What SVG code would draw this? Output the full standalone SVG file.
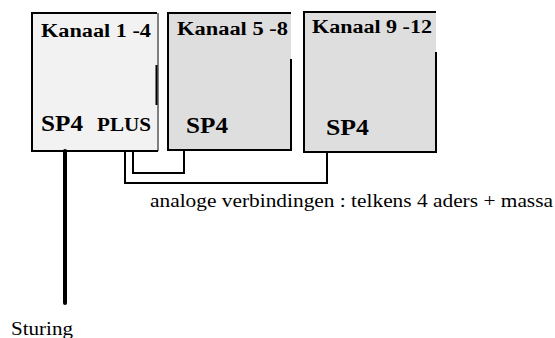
<svg xmlns="http://www.w3.org/2000/svg" width="555" height="338" viewBox="0 0 555 338">
<style>
text{font-family:'Liberation Serif','Times New Roman',serif;fill:#000}
.t{font-weight:bold}
.b{stroke:#000;stroke-width:2;fill:none}
.c{stroke:#000;fill:none;stroke-width:2}
</style>
<rect width="555" height="338" fill="#fff"/>
<g id="node-kanaal-1-4">
<rect x="32" y="13" width="125" height="138" fill="#f2f2f2"/>
<path class="b" d="M157,13 H32 V151 H158"/>
<line x1="158" y1="13" x2="158" y2="151" stroke="#000" stroke-width="1"/>
<line x1="156.5" y1="65" x2="156.5" y2="105" stroke="#000" stroke-width="2"/>
<text class="t" x="41" y="37" font-size="18" textLength="110" lengthAdjust="spacingAndGlyphs">Kanaal  1 -4</text>
<text class="t" x="41" y="131" font-size="24" textLength="42" lengthAdjust="spacingAndGlyphs">SP4</text>
<text class="t" x="97" y="131" font-size="19" textLength="54" lengthAdjust="spacingAndGlyphs">PLUS</text>
</g>
<g id="node-kanaal-5-8">
<rect x="168" y="13" width="123" height="137" fill="#dedede"/>
<path class="b" d="M291,13 H168 V150 H291 V59"/>
<text class="t" x="177" y="35" font-size="18" textLength="111" lengthAdjust="spacingAndGlyphs">Kanaal  5 -8</text>
<text class="t" x="186" y="133" font-size="24" textLength="42" lengthAdjust="spacingAndGlyphs">SP4</text>
</g>
<g id="node-kanaal-9-12">
<rect x="304" y="12" width="132" height="140" fill="#dedede"/>
<path class="b" d="M436,12 H304 V152 H436 V52"/>
<text class="t" x="312" y="33" font-size="18" textLength="120" lengthAdjust="spacingAndGlyphs">Kanaal  9 -12</text>
<text class="t" x="326" y="135" font-size="24" textLength="43" lengthAdjust="spacingAndGlyphs">SP4</text>
</g>
<g id="connectors">
<line x1="65" y1="151" x2="65" y2="303" stroke="#000" stroke-width="4" stroke-linecap="round"/>
<path class="c" d="M133,151 V173 H184 V150"/>
<path class="c" d="M125,151 V183 H327 V152"/>
</g>
<text x="150" y="207" font-size="18" textLength="403" lengthAdjust="spacingAndGlyphs">analoge verbindingen : telkens 4 aders + massa</text>
<text x="11" y="335" font-size="19" textLength="62" lengthAdjust="spacingAndGlyphs">Sturing</text>
</svg>
